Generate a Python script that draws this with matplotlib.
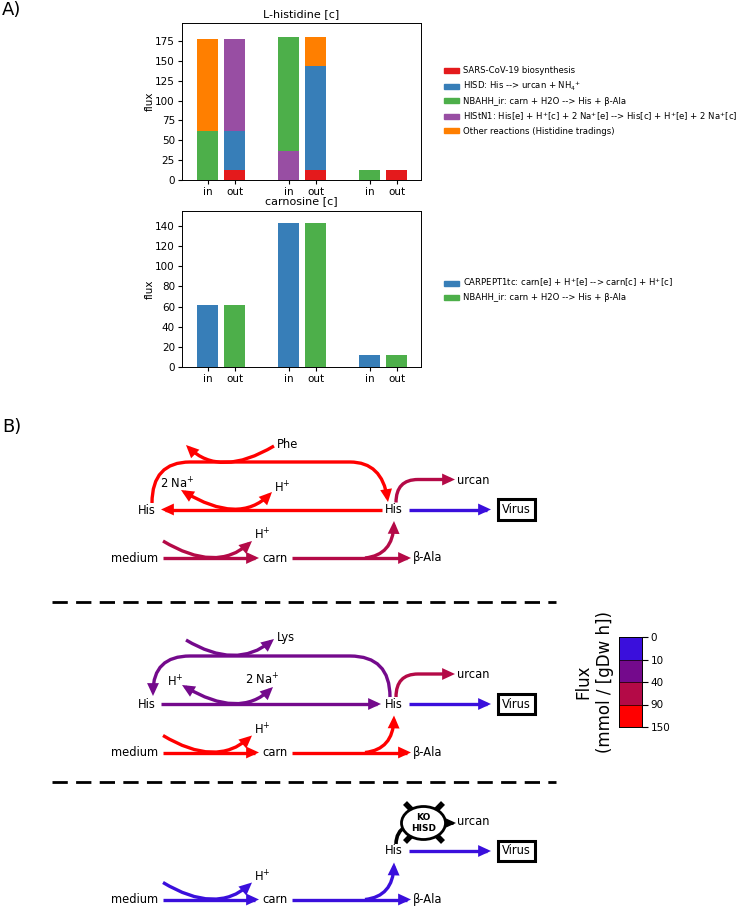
import matplotlib
matplotlib.use("Agg")
import matplotlib.pyplot as plt
import numpy as np
from matplotlib.colors import ListedColormap
from matplotlib.patches import Ellipse, FancyArrowPatch, PathPatch, Patch
from matplotlib.path import Path

W, H = 738, 906

# panel A data
his_bars = ["in", "out", "in", "out", "in", "out"]
positions = [0, 1, 3, 4, 6, 7]
biosynthesis = [0, 12, 0, 12, 0, 12]
hisd = [0, 50, 0, 131, 0, 0]
nbahh = [62, 0, 143, 0, 12, 0]
histn1 = [0, 116, 37, 0, 0, 0]
other = [116, 0, 0, 37, 0, 0]
carn_in = [62, 0, 143.5, 0, 12, 0]
carn_out = [0, 62, 0, 143.5, 0, 12]

RXN_COLORS = ["#e41a1c", "#377eb8", "#4daf4a", "#984ea3", "#ff7f00"]
his_labels = [
    "SARS-CoV-19 biosynthesis",
    "HISD: His --> urcan + NH$_4$$^{+}$",
    "NBAHH_ir: carn + H2O --> His + β-Ala",
    "HIStN1: His[e] + H$^{+}$[c] + 2 Na$^{+}$[e] --> His[c] + H$^{+}$[e] + 2 Na$^{+}$[c]",
    "Other reactions (Histidine tradings)",
]
carn_labels = [
    "CARPEPT1tc: carn[e] + H$^{+}$[e] --> carn[c] + H$^{+}$[c]",
    "NBAHH_ir: carn + H2O --> His + β-Ala",
]

# flux colour scale
flux_ticks = ["0", "10", "40", "90", "150"]
BLUE, PURPLE, CRIMSON, RED = "#3a0fdc", "#740a8c", "#b40a47", "#ff0000"
flux_colors = [BLUE, PURPLE, CRIMSON, RED]


def px_axes(fig, left, top, right, bottom):
    return fig.add_axes([left / W, 1 - bottom / H, (right - left) / W, (bottom - top) / H])


def style_bars(ax, title, pad=4):
    ax.set_title(title, fontsize=8, pad=pad)
    ax.set_ylabel("flux", fontsize=7.5, labelpad=0)
    ax.set_xticks(positions, his_bars)
    ax.tick_params(labelsize=7.5, length=2.6, pad=2.5)
    ax.set_xlim(-0.95, 7.9)
    for s in ax.spines.values():
        s.set_linewidth(0.7)


def curve(*segments):
    """First item is the start point; then 1 pt = line, 2 pts = quad, 3 pts = cubic."""
    verts = [segments[0]]
    codes = [Path.MOVETO]
    kinds = {1: Path.LINETO, 2: Path.CURVE3, 3: Path.CURVE4}
    for seg in segments[1:]:
        verts.extend(seg)
        codes.extend([kinds[len(seg)]] * len(seg))
    return Path(verts, codes)


def flow(ax, path, color, style="-|>", lw=2.4):
    arrow_style = f"{style},head_length=0.52,head_width=0.24"
    ax.add_patch(FancyArrowPatch(path=path, arrowstyle=arrow_style, mutation_scale=10,
                                 color=color, lw=lw, capstyle="butt", joinstyle="miter"))


def label(ax, x, y, text, ha="center", **kw):
    ax.text(x, y, text, ha=ha, va="center", fontsize=kw.pop("fontsize", 8.3), **kw)


def lower_block(ax, y, med_c, out_c, up_c):
    # y is the level of the medium -> carn line
    label(ax, 135, y, "medium")
    label(ax, 275, y, "carn")
    label(ax, 413, y, "β-Ala", ha="left")
    label(ax, 262, y - 23, "H$^{+}$")
    flow(ax, curve((163, y), [(259, y)]), med_c)
    flow(ax, curve((163, y - 17), [(216, y + 15), (252, y - 17)]), med_c)
    flow(ax, curve((292, y), [(411, y)]), out_c)
    flow(ax, curve((365, y), [(393, y - 3), (394, y - 37)]), up_c)


def right_block(ax, y, urcan_c, virus_c):
    # y is the level of the right-hand His
    label(ax, 394, y, "His")
    label(ax, 457, y - 29.5, "urcan", ha="left")
    flow(ax, curve((409, y), [(491, y)]), virus_c)
    if urcan_c is not None:
        flow(ax, curve((396, y - 7), [(396, y - 30), (418, y - 30)], [(455, y - 30)]), urcan_c)
    ax.text(516.5, y, "Virus", ha="center", va="center", fontsize=8.3,
            bbox=dict(boxstyle="square,pad=0.33", fc="white", ec="black", lw=2.2))


fig = plt.figure(figsize=(W / 100, H / 100), dpi=100)

# ---- panel A ----
ax1 = px_axes(fig, 182, 23, 421, 180)
bottom = np.zeros(len(positions))
# stacking order differs from the legend order
for vals, c in zip([biosynthesis, hisd, histn1, nbahh, other],
                   [RXN_COLORS[0], RXN_COLORS[1], RXN_COLORS[3], RXN_COLORS[2], RXN_COLORS[4]]):
    ax1.bar(positions, vals, bottom=bottom, width=0.8, color=c)
    bottom += np.array(vals)
handles = [Patch(color=c, label=lab) for c, lab in zip(RXN_COLORS, his_labels)]
style_bars(ax1, "L-histidine [c]")
ax1.set_ylim(0, 197.7)
ax1.set_yticks(range(0, 176, 25))
leg_kw = dict(loc="center left", frameon=False, fontsize=6.1, handlelength=1.75, handleheight=0.5,
              handletextpad=0.45, borderpad=0, borderaxespad=0)
ax1.legend(handles=handles, bbox_to_anchor=(262 / 239, 0.503), labelspacing=0.5, **leg_kw)

ax2 = px_axes(fig, 182, 211, 421, 367)
ax2.bar(positions, carn_in, width=0.8, color=RXN_COLORS[1])
ax2.bar(positions, carn_out, width=0.8, color=RXN_COLORS[2])
style_bars(ax2, "carnosine [c]", pad=5)
ax2.set_ylim(0, 155)
ax2.set_yticks(range(0, 141, 20))
ax2.legend(handles=[Patch(color=RXN_COLORS[1], label=carn_labels[0]),
                    Patch(color=RXN_COLORS[2], label=carn_labels[1])],
           bbox_to_anchor=(262 / 239, 0.497), labelspacing=0.5, **leg_kw)

# ---- panel B: pathway sketches, drawn in pixel coordinates ----
bg = fig.add_axes([0, 0, 1, 1], zorder=3)
bg.set_xlim(0, W)
bg.set_ylim(H, 0)
bg.axis("off")
bg.patch.set_alpha(0)

label(bg, 2, 10, "A)", ha="left", fontsize=13)
label(bg, 2, 427, "B)", ha="left", fontsize=13)
for y in (602, 782):
    bg.plot([52, 556], [y, y], color="black", lw=2, ls=(0, (5.5, 3)))

# top scenario
label(bg, 147, 510, "His")
label(bg, 277, 444, "Phe", ha="left")
label(bg, 160, 484, "2 Na$^{+}$", ha="left")
label(bg, 282, 488, "H$^{+}$")
flow(bg, curve((274, 446), [(220, 478), (186, 445)]), RED)
flow(bg, curve((152, 503), [(152, 462), (190, 462)], [(350, 462)], [(382, 462), (388, 502)]), RED)
flow(bg, curve((382, 509.5), [(161, 509.5)]), RED)
flow(bg, curve((181, 490), [(239, 525), (272, 492)]), RED, style="<|-|>")
right_block(bg, 509.5, CRIMSON, BLUE)
lower_block(bg, 558, CRIMSON, CRIMSON, CRIMSON)

# middle scenario
label(bg, 147, 704, "His")
label(bg, 277, 638, "Lys", ha="left")
label(bg, 175, 682, "H$^{+}$")
label(bg, 262, 680, "2 Na$^{+}$")
flow(bg, curve((186, 640), [(236, 670), (274, 639)]), PURPLE)
flow(bg, curve((390, 697), [(390, 656), (350, 656)], [(190, 656)], [(153, 656), (153, 696)]), PURPLE)
flow(bg, curve((161, 704), [(381, 704)]), PURPLE)
flow(bg, curve((182, 685), [(239, 719), (273, 687)]), PURPLE, style="<|-|>")
right_block(bg, 704, CRIMSON, BLUE)
lower_block(bg, 752.5, RED, RED, RED)

# knockout scenario
right_block(bg, 851, None, BLUE)
lower_block(bg, 899.5, BLUE, BLUE, BLUE)
bg.plot([405, 443], [803, 842], color="black", lw=4, solid_capstyle="butt", zorder=2.1)
bg.plot([443, 405], [803, 842], color="black", lw=4, solid_capstyle="butt", zorder=2.1)
bg.add_patch(PathPatch(curve((396, 844), [(396, 832), (406, 826)]), fc="none", ec="black",
                       lw=2.6, zorder=2.1))
flow(bg, curve((444, 823), [(456, 823)]), "black", lw=2)
bg.add_patch(Ellipse((423.5, 823), 44, 33, fc="white", ec="black", lw=2, zorder=2.5))
bg.text(423.5, 823, "KO\nHISD", ha="center", va="center", fontsize=6.5, fontweight="bold",
        linespacing=1.25, zorder=2.6)

# flux colour scale
cax = px_axes(fig, 619, 637, 642, 727)
cax.pcolormesh([0, 1], np.arange(5), np.arange(4).reshape(-1, 1),
               cmap=ListedColormap(flux_colors), edgecolors="none")
cax.set_ylim(4, 0)
cax.set_xticks([])
cax.set_yticks(range(5), flux_ticks)
cax.yaxis.tick_right()
cax.tick_params(labelsize=7.5, length=4, width=0.8, pad=2)
for y in range(1, 4):
    cax.axhline(y, color="black", lw=0.7, alpha=0.7)
for s in cax.spines.values():
    s.set_linewidth(0.7)
label(bg, 594, 682, "Flux\n(mmol / [gDw h])", fontsize=12, rotation=90, linespacing=1.3)

fig.savefig("out.png", dpi=100)
